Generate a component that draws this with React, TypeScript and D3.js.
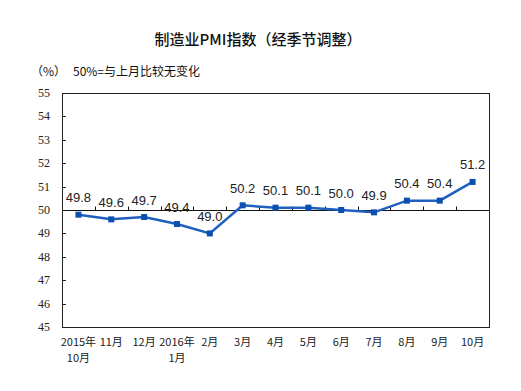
import React, { useEffect, useRef } from 'react';
import * as d3 from 'd3';

// months, first and second line of each x label
const months = ['2015-10', '2015-11', '2015-12', '2016-01', '2016-02', '2016-03', '2016-04',
  '2016-05', '2016-06', '2016-07', '2016-08', '2016-09', '2016-10'];
const labelLine1 = ['2015年', '11月', '12月', '2016年', '2月', '3月', '4月', '5月', '6月', '7月', '8月', '9月', '10月'];
const labelLine2 = ['10月', '', '', '1月', '', '', '', '', '', '', '', '', ''];
const pmi = [49.8, 49.6, 49.7, 49.4, 49.0, 50.2, 50.1, 50.1, 50.0, 49.9, 50.4, 50.4, 51.2];
const yTicks = [45, 46, 47, 48, 49, 50, 51, 52, 53, 54, 55];

function App() {
  const svgRef = useRef<SVGSVGElement>(null);

  useEffect(() => {
    if (!svgRef.current) return;
    const svg = d3.select(svgRef.current);
    svg.selectAll('*').remove();

    const left = 62, right = 489, top = 93, bottom = 327;

    const x = d3.scaleBand<string>().domain(months).range([left, right]);
    const y = d3.scaleLinear().domain([45, 55]).range([bottom, top]);
    const cx = (m: string) => (x(m) as number) + x.bandwidth() / 2;

    // title
    svg.append('text')
      .attr('x', 258).attr('y', 45)
      .attr('text-anchor', 'middle')
      .style('font-family', '"Noto Sans CJK SC", sans-serif')
      .style('font-size', '15px')
      .style('font-weight', 500)
      .style('fill', '#111')
      .text('制造业PMI指数（经季节调整）');

    svg.append('text')
      .attr('x', 31).attr('y', 76)
      .style('font-family', '"Noto Sans CJK SC", sans-serif')
      .style('font-size', '12px')
      .style('fill', '#111')
      .text('（%）');
    svg.append('text')
      .attr('x', 73).attr('y', 76)
      .style('font-family', '"Noto Sans CJK SC", sans-serif')
      .style('font-size', '12px')
      .style('fill', '#111')
      .text('50%=与上月比较无变化');

    // plot frame
    svg.append('rect')
      .attr('x', left + 0.5).attr('y', top + 0.5)
      .attr('width', right - left).attr('height', bottom - top)
      .attr('fill', 'none').attr('stroke', '#222').attr('stroke-width', 1);

    // y axis ticks and labels
    const yg = svg.append('g');
    yTicks.forEach(t => {
      yg.append('line')
        .attr('x1', left).attr('x2', left + 4)
        .attr('y1', Math.round(y(t)) + 0.5).attr('y2', Math.round(y(t)) + 0.5)
        .attr('stroke', '#222');
      yg.append('text')
        .attr('x', 50).attr('y', y(t) + 4)
        .attr('text-anchor', 'end')
        .style('font-family', '"Liberation Serif", serif')
        .style('font-size', '12px')
        .style('fill', '#222')
        .text(t);
    });

    // 50 line with category ticks
    const y50 = Math.round(y(50)) + 0.5;
    svg.append('line')
      .attr('x1', left).attr('x2', right)
      .attr('y1', y50).attr('y2', y50)
      .attr('stroke', '#111');
    months.slice(1).forEach(m => {
      const bx = Math.round(x(m) as number) + 0.5;
      svg.append('line')
        .attr('x1', bx).attr('x2', bx)
        .attr('y1', y50).attr('y2', y50 - 4)
        .attr('stroke', '#111');
    });

    // x labels
    const xg = svg.append('g')
      .style('font-family', '"Noto Sans CJK SC", sans-serif')
      .style('font-size', '11px')
      .style('fill', '#222');
    months.forEach((m, i) => {
      xg.append('text').attr('x', cx(m)).attr('y', 346)
        .attr('text-anchor', 'middle').text(labelLine1[i]);
      if (labelLine2[i]) {
        xg.append('text').attr('x', cx(m)).attr('y', 362)
          .attr('text-anchor', 'middle').text(labelLine2[i]);
      }
    });

    // line
    const line = d3.line<number>()
      .x((_, i) => cx(months[i]))
      .y(d => y(d));
    svg.append('path')
      .datum(pmi)
      .attr('d', line)
      .attr('fill', 'none')
      .attr('stroke', '#1f5fbf')
      .attr('stroke-width', 2.5);

    svg.selectAll('rect.mk')
      .data(pmi)
      .enter().append('rect')
      .attr('class', 'mk')
      .attr('x', (_, i) => cx(months[i]) - 3)
      .attr('y', d => y(d) - 3)
      .attr('width', 6).attr('height', 6)
      .attr('fill', '#0b4fb0');

    // value labels
    svg.selectAll('text.val')
      .data(pmi)
      .enter().append('text')
      .attr('class', 'val')
      .attr('x', (_, i) => cx(months[i]))
      .attr('y', d => y(d) - 12.5)
      .attr('text-anchor', 'middle')
      .style('font-family', '"Liberation Sans", Arial, sans-serif')
      .style('font-size', '13px')
      .style('fill', '#222')
      .text(d => d.toFixed(1));
  }, []);

  return (
    <svg ref={svgRef} width={521} height={391}
      style={{ position: 'absolute', left: 0, top: 0, background: '#fff' }} />
  );
}

export default App;
